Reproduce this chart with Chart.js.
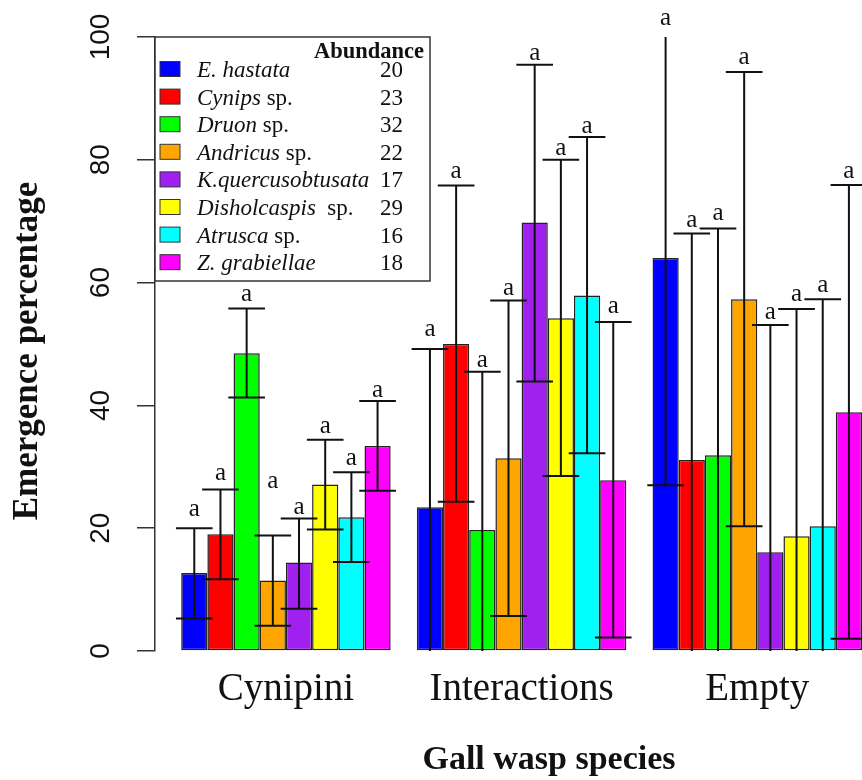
<!DOCTYPE html>
<html>
<head>
<meta charset="utf-8">
<script src="https://cdn.jsdelivr.net/npm/chart.js@4.4.1/dist/chart.umd.min.js"></script>
<style>
    html, body { margin: 0; padding: 0; background: #fff; overflow: hidden; }
    #wrap { width: 862px; height: 780px; }
</style>
</head>
<body>
<div id="wrap"><canvas id="emergenceChart" width="862" height="780"></canvas></div>
<script>
// categories along x
const groups = ['Cynipini', 'Interactions', 'Empty'];

// species (legend), italic part + plain part, abundance
const speciesItalic = ['E. hastata', 'Cynips', 'Druon', 'Andricus', 'K.quercusobtusata', 'Disholcaspis', 'Atrusca', 'Z. grabiellae'];
const speciesPlain = ['', ' sp.', ' sp.', ' sp.', '', '  sp.', ' sp.', ''];
const abundance = [20, 23, 32, 22, 17, 29, 16, 18];
const colors = ['#0000FF', '#FF0000', '#00FF00', '#FFA500', '#A020F0', '#FFFF00', '#00FFFF', '#FF00FF'];

// mean emergence % per species: [Cynipini, Interactions, Empty]
const hastataMean = [12.7, 23.4, 64.0];
const cynipsMean = [19.0, 50.0, 31.1];
const druonMean = [48.5, 19.7, 31.9];
const andricusMean = [11.5, 31.4, 57.3];
const kquercusMean = [14.4, 69.8, 16.1];
const disholMean = [27.1, 54.2, 18.7];
const atruscaMean = [21.8, 57.9, 20.3];
const zgrabMean = [33.4, 27.8, 38.9];

// error bar upper / lower ends
const hastataHi = [20.0, 49.2, 101.0], hastataLo = [5.3, -2.5, 27.0];
const cynipsHi = [26.3, 75.8, 68.0], cynipsLo = [11.7, 24.3, -5.8];
const druonHi = [55.8, 45.5, 68.8], druonLo = [41.3, -6.1, -5.0];
const andricusHi = [18.8, 57.1, 94.3], andricusLo = [4.1, 5.7, 20.3];
const kquercusHi = [21.6, 95.5, 53.1], kquercusLo = [6.9, 43.9, -20.9];
const disholHi = [34.4, 80.0, 55.7], disholLo = [19.8, 28.5, -18.3];
const atruscaHi = [29.1, 83.7, 57.3], atruscaLo = [14.5, 32.2, -16.7];
const zgrabHi = [40.7, 53.6, 75.9], zgrabLo = [26.1, 2.2, 2.0];

// where the "a" letters sit (y value)
const hastataLetter = [23.0, 52.3, 103.1];
const cynipsLetter = [29.0, 78.1, 70.2];
const druonLetter = [58.0, 47.3, 71.3];
const andricusLetter = [27.6, 59.1, 96.7];
const kquercusLetter = [23.4, 97.4, 55.2];
const disholLetter = [36.6, 81.9, 58.0];
const atruscaLetter = [31.4, 85.5, 59.6];
const zgrabLetter = [42.5, 56.1, 78.1];

const yTicks = [0, 20, 40, 60, 80, 100];

const means = [hastataMean, cynipsMean, druonMean, andricusMean, kquercusMean, disholMean, atruscaMean, zgrabMean];
const highs = [hastataHi, cynipsHi, druonHi, andricusHi, kquercusHi, disholHi, atruscaHi, zgrabHi];
const lows = [hastataLo, cynipsLo, druonLo, andricusLo, kquercusLo, disholLo, atruscaLo, zgrabLo];
const letters = [hastataLetter, cynipsLetter, druonLetter, andricusLetter, kquercusLetter, disholLetter, atruscaLetter, zgrabLetter];

const SERIF = '"Liberation Serif", "Times New Roman", serif';
const SANS = '"Liberation Sans", Arial, sans-serif';

const errorBars = {
    id: 'errorBars',
    afterDatasetsDraw(chart) {
        const ctx = chart.ctx;
        const y = chart.scales.y;
        const area = chart.chartArea;
        ctx.save();
        ctx.beginPath();
        ctx.rect(0, area.top, chart.width, area.bottom - area.top);
        ctx.clip();
        ctx.strokeStyle = '#111';
        ctx.lineWidth = 2;
        chart.data.datasets.forEach((ds, i) => {
            const meta = chart.getDatasetMeta(i);
            meta.data.forEach((bar, j) => {
                const yHi = y.getPixelForValue(highs[i][j]);
                const yLo = y.getPixelForValue(lows[i][j]);
                const capHalf = bar.width * 0.7;
                ctx.beginPath();
                ctx.moveTo(bar.x, yLo);
                ctx.lineTo(bar.x, yHi);
                ctx.moveTo(bar.x - capHalf, yHi);
                ctx.lineTo(bar.x + capHalf, yHi);
                ctx.moveTo(bar.x - capHalf, yLo);
                ctx.lineTo(bar.x + capHalf, yLo);
                ctx.stroke();
            });
        });
        ctx.restore();

        ctx.save();
        ctx.fillStyle = '#111';
        ctx.font = '25px ' + SERIF;
        ctx.textAlign = 'center';
        ctx.textBaseline = 'middle';
        chart.data.datasets.forEach((ds, i) => {
            chart.getDatasetMeta(i).data.forEach((bar, j) => {
                ctx.fillText('a', bar.x, y.getPixelForValue(letters[i][j]));
            });
        });
        ctx.restore();
    }
};

const axisText = {
    id: 'axisText',
    afterDraw(chart) {
        const ctx = chart.ctx;
        const x = chart.scales.x;
        const y = chart.scales.y;
        ctx.save();
        ctx.fillStyle = '#111';
        // y tick labels, rotated like R
        ctx.font = '28px ' + SANS;
        ctx.textAlign = 'center';
        ctx.textBaseline = 'middle';
        yTicks.forEach(t => {
            ctx.save();
            ctx.translate(101, y.getPixelForValue(t));
            ctx.rotate(-Math.PI / 2);
            ctx.fillText(String(t), 0, 0);
            ctx.restore();
        });
        // group names
        ctx.font = '39px ' + SERIF;
        groups.forEach((g, j) => {
            ctx.fillText(g, x.getPixelForValue(j + 1), 690);
        });
        // axis titles
        ctx.font = 'bold 34px ' + SERIF;
        ctx.fillText('Gall wasp species', 549, 760);
        ctx.save();
        ctx.translate(28, 351);
        ctx.rotate(-Math.PI / 2);
        ctx.font = 'bold 35px ' + SERIF;
        ctx.fillText('Emergence percentage', 0, 0);
        ctx.restore();
        ctx.restore();
    }
};

const legendBox = {
    id: 'legendBox',
    afterDraw(chart) {
        const ctx = chart.ctx;
        ctx.save();
        ctx.fillStyle = '#fff';
        ctx.fillRect(155, 37, 275, 244);
        ctx.strokeStyle = '#333';
        ctx.lineWidth = 1.5;
        ctx.strokeRect(155, 37, 275, 244);
        ctx.fillStyle = '#111';
        ctx.textBaseline = 'middle';
        ctx.font = 'bold 22.5px ' + SERIF;
        ctx.textAlign = 'right';
        ctx.fillText('Abundance', 424, 52);
        speciesItalic.forEach((name, i) => {
            const ry = 69 + 27.6 * i;
            ctx.fillStyle = colors[i];
            ctx.fillRect(160, ry - 7.5, 20, 15);
            ctx.strokeStyle = '#333';
            ctx.lineWidth = 1;
            ctx.strokeRect(160, ry - 7.5, 20, 15);
            ctx.fillStyle = '#111';
            ctx.textAlign = 'left';
            ctx.font = 'italic 23px ' + SERIF;
            ctx.fillText(name, 197, ry + 2);
            const w = ctx.measureText(name).width;
            ctx.font = '23px ' + SERIF;
            ctx.fillText(speciesPlain[i], 197 + w, ry + 2);
            ctx.textAlign = 'center';
            ctx.fillText(String(abundance[i]), 391.5, ry + 2);
        });
        ctx.restore();
    }
};

const datasets = speciesItalic.map((name, i) => ({
    label: name + speciesPlain[i],
    data: groups.map((g, j) => ({ x: j + 1, y: means[i][j] })),
    backgroundColor: colors[i],
    borderColor: '#222',
    borderWidth: 1.5,
    borderSkipped: false,
    categoryPercentage: 8 / 9,
    barPercentage: 1
}));

new Chart(document.getElementById('emergenceChart'), {
    type: 'bar',
    data: { datasets: datasets },
    options: {
        responsive: false,
        animation: false,
        devicePixelRatio: 1,
        events: [],
        layout: { padding: { top: 37, bottom: 129, left: 0, right: 0 } },
        plugins: { legend: { display: false }, tooltip: { enabled: false } },
        scales: {
            x: {
                type: 'linear',
                display: false,
                offset: false,
                min: 4 / 9,
                max: 31 / 9,
                afterBuildTicks: s => { s.ticks = groups.map((g, j) => ({ value: j + 1 })); }
            },
            y: {
                min: 0,
                max: 100,
                afterFit: s => { s.width = 155; },
                ticks: { stepSize: 20, display: false },
                grid: { drawOnChartArea: false, drawTicks: true, tickLength: 18, color: '#333', lineWidth: 1.5 },
                border: { display: true, color: '#333', width: 1.5 }
            }
        }
    },
    plugins: [errorBars, axisText, legendBox]
});
</script>
</body>
</html>
